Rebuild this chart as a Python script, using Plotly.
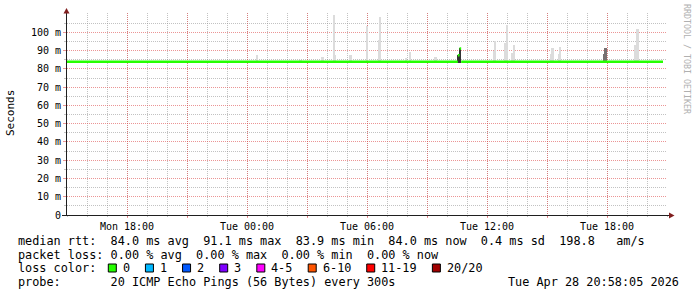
import plotly.graph_objects as go

# ---------------- data ----------------
x_start = "2026-04-27 15:00:00"
x_end = "2026-04-28 21:00:00"

# x grid / tick labels (major every 3 h, labelled every 6 h)
x_tick_vals = ["2026-04-27 18:00", "2026-04-27 21:00", "2026-04-28 00:00",
               "2026-04-28 03:00", "2026-04-28 06:00", "2026-04-28 09:00",
               "2026-04-28 12:00", "2026-04-28 15:00", "2026-04-28 18:00"]
x_tick_text = ["Mon 18:00", "", "Tue 00:00", "", "Tue 06:00", "",
               "Tue 12:00", "", "Tue 18:00"]

y_tick_vals = [0, 10, 20, 30, 40, 50, 60, 70, 80, 90, 100]
y_tick_text = ["0", "10 m", "20 m", "30 m", "40 m", "50 m", "60 m",
               "70 m", "80 m", "90 m", "100 m"]
y_minor_vals = [5, 15, 25, 35, 45, 55, 65, 75, 85, 95, 105]

# median rtt (ms); None breaks the line
median_t = ["2026-04-27 15:00", "2026-04-28 10:32:30", None,
            "2026-04-28 10:32:30", "2026-04-28 10:37:30", None,
            "2026-04-28 10:37:30", "2026-04-28 10:42:30", None,
            "2026-04-28 10:42:30", "2026-04-28 20:48"]
median_v = [84.0, 84.0, None, 87.5, 87.5, None, 91.2, 91.2, None, 84.0, 84.0]

smoke_base = 83.5  # fastest ping (ms)

# light smoke (sparse outlier pings): time, top (ms)
light_t = ["2026-04-28 00:31", "2026-04-28 02:41", "2026-04-28 03:47",
           "2026-04-28 04:22", "2026-04-28 04:25", "2026-04-28 05:11",
           "2026-04-28 06:01", "2026-04-28 06:36", "2026-04-28 06:40",
           "2026-04-28 07:57", "2026-04-28 08:10", "2026-04-28 09:26",
           "2026-04-28 12:21", "2026-04-28 12:25", "2026-04-28 12:55",
           "2026-04-28 13:01", "2026-04-28 13:16", "2026-04-28 13:21",
           "2026-04-28 15:12", "2026-04-28 15:17", "2026-04-28 15:36",
           "2026-04-28 15:40", "2026-04-28 19:26", "2026-04-28 19:32"]
light_top = [87.7, 85.0, 86.6, 109.8, 87.7, 87.7, 103.6, 96.0, 108.5,
             86.0, 89.3, 86.6, 89.7, 95.2, 94.2, 104.3, 88.8, 93.3,
             88.2, 91.5, 88.0, 92.0, 93.3, 102.0]

# medium-density smoke
mid_t = ["2026-04-28 17:51", "2026-04-28 17:56"]
mid_top = [88.0, 91.5]

# dense smoke
dark_t = ["2026-04-28 10:35", "2026-04-28 10:40"]
dark_top = [87.5, 91.5]

rtt_stats = [("84.0 ms", "avg"), ("91.1 ms", "max"), ("83.9 ms", "min"),
             ("84.0 ms", "now"), ("0.4 ms", "sd")]
rtt_am = "198.8"
loss_stats = [("0.00 %", "avg"), ("0.00 %", "max"), ("0.00 %", "min"),
              ("0.00 %", "now")]
loss_labels = ["0", "1", "2", "3", "4-5", "6-10", "11-19", "20/20"]
loss_colors = ["#26ff00", "#00b8ff", "#0059ff", "#7e00ff", "#ff00ff",
               "#ff5500", "#ff0000", "#a00000"]
probe_text = "20 ICMP Echo Pings (56 Bytes) every 300s"
stamp_text = "Tue Apr 28 20:58:05 2026"

# ---------------- layout geometry ----------------
W, H = 697, 297
L, R, T, B = 67, 30, 13, 82
PW = W - L - R
PH = H - T - B
Y_MAX = (PH) / 1.8256

MONO = "DejaVu Sans Mono"
GRID = "rgba(143,143,143,0.55)"
MGRID = "rgba(222,79,79,0.6)"
ARROW = "rgb(128,31,31)"
AXIS = "rgb(31,31,31)"


def px(x):
    return (x - L) / PW


def py(y):
    return (T + PH - y) / PH


fig = go.Figure()

STEP_MS = 300000


def smoke(t, top, color):
    fig.add_trace(go.Bar(
        x=t, y=[v - smoke_base for v in top], base=smoke_base,
        width=STEP_MS, marker=dict(color=color, line=dict(width=0)),
        hoverinfo="skip", showlegend=False))


smoke(light_t, light_top, "#dcdcdc")
smoke(mid_t, mid_top, "#787070")
smoke(dark_t, dark_top, "#333333")

fig.add_trace(go.Scatter(
    x=median_t, y=median_v, mode="lines", connectgaps=False,
    line=dict(color=loss_colors[0], width=2.5), hoverinfo="skip",
    showlegend=False))

fig.update_layout(
    width=W, height=H,
    margin=dict(l=L, r=R, t=T, b=B, pad=0),
    paper_bgcolor="white", plot_bgcolor="white",
    barmode="overlay", bargap=0,
    showlegend=False,
    font=dict(family=MONO, size=10, color="black"),
)

fig.update_xaxes(
    type="date", range=[x_start, x_end], fixedrange=True,
    tickmode="array", tickvals=x_tick_vals, ticktext=x_tick_text,
    showgrid=True, gridcolor=MGRID, griddash="1px,1px", gridwidth=1,
    ticks="outside", ticklen=2, tickcolor=MGRID,
    tickfont=dict(family=MONO, size=10, color="black"),
    showline=False, zeroline=False,
    minor=dict(dtick=3600000, tick0=x_start, showgrid=True,
               gridcolor=GRID, griddash="1px,1px", gridwidth=1,
               ticks="outside", ticklen=1, tickcolor=GRID),
)
fig.update_yaxes(
    range=[0, Y_MAX], fixedrange=True,
    tickmode="array", tickvals=y_tick_vals, ticktext=y_tick_text,
    showgrid=True, gridcolor=MGRID, griddash="1px,1px", gridwidth=1,
    ticks="outside", ticklen=3, tickcolor=MGRID,
    tickfont=dict(family=MONO, size=10, color="black"),
    showline=False, zeroline=False,
    minor=dict(tickmode="array", tickvals=y_minor_vals, showgrid=True,
               gridcolor=GRID, griddash="1px,1px", gridwidth=1,
               ticks="outside", ticklen=2, tickcolor=GRID),
)

shapes = []
# axis lines
shapes.append(dict(type="line", xref="paper", yref="paper",
                   x0=px(66.5), x1=px(66.5), y0=py(215.5), y1=py(10),
                   line=dict(color=AXIS, width=1), layer="above"))
shapes.append(dict(type="line", xref="paper", yref="paper",
                   x0=px(62), x1=px(670), y0=py(215.5), y1=py(215.5),
                   line=dict(color=AXIS, width=1), layer="above"))
# arrows
shapes.append(dict(type="path", xref="paper", yref="paper",
                   path="M %f,%f L %f,%f L %f,%f Z" % (px(63.5), py(13.5), px(69.5), py(13.5), px(66.5), py(8)),
                   fillcolor=ARROW, line=dict(width=0), layer="above"))
shapes.append(dict(type="path", xref="paper", yref="paper",
                   path="M %f,%f L %f,%f L %f,%f Z" % (px(669), py(212.5), px(669), py(218.5), px(674.5), py(215.5)),
                   fillcolor=ARROW, line=dict(width=0), layer="above"))

annotations = []
CW = 7.13
LEG_FONT = dict(family=MONO, size=11.84, color="black")
X0 = 16


def txt(x, y, s, anchor="left", **kw):
    annotations.append(dict(xref="paper", yref="paper", x=px(x), y=py(y),
                            text=s.replace(" ", "\u00a0"), showarrow=False,
                            xanchor=anchor, yanchor="middle",
                            font=kw.get("font", LEG_FONT),
                            textangle=kw.get("angle", 0)))


row1 = "median rtt:  " + "  ".join("%s %s" % s for s in rtt_stats) + "  " + rtt_am + "   am/s"
row2 = "packet loss: " + "  ".join("%s %s" % s for s in loss_stats)
row4 = "probe:       " + probe_text
txt(X0, 241, row1)
txt(X0, 255, row2)
txt(X0, 268.3, "loss color:")
txt(X0, 282.3, row4)
txt(681, 282.3, stamp_text, anchor="right")

bx = 108.3
for lab, col in zip(loss_labels, loss_colors):
    shapes.append(dict(type="rect", xref="paper", yref="paper",
                       x0=px(bx), x1=px(bx + 8), y0=py(272), y1=py(264),
                       fillcolor=col, line=dict(color="black", width=1),
                       layer="above"))
    txt(bx + 12.4, 268.3, lab)
    bx += 30 + CW * len(lab)

# y-axis title and watermark
txt(10, 113, "Seconds", anchor="center",
    font=dict(family=MONO, size=11, color="black"), angle=-90)
txt(687, 59, "RRDTOOL / TOBI OETIKER", anchor="center",
    font=dict(family=MONO, size=8.3, color="#b0b0b0"), angle=90)

fig.update_layout(shapes=shapes, annotations=annotations)
fig.write_html("out.html")
